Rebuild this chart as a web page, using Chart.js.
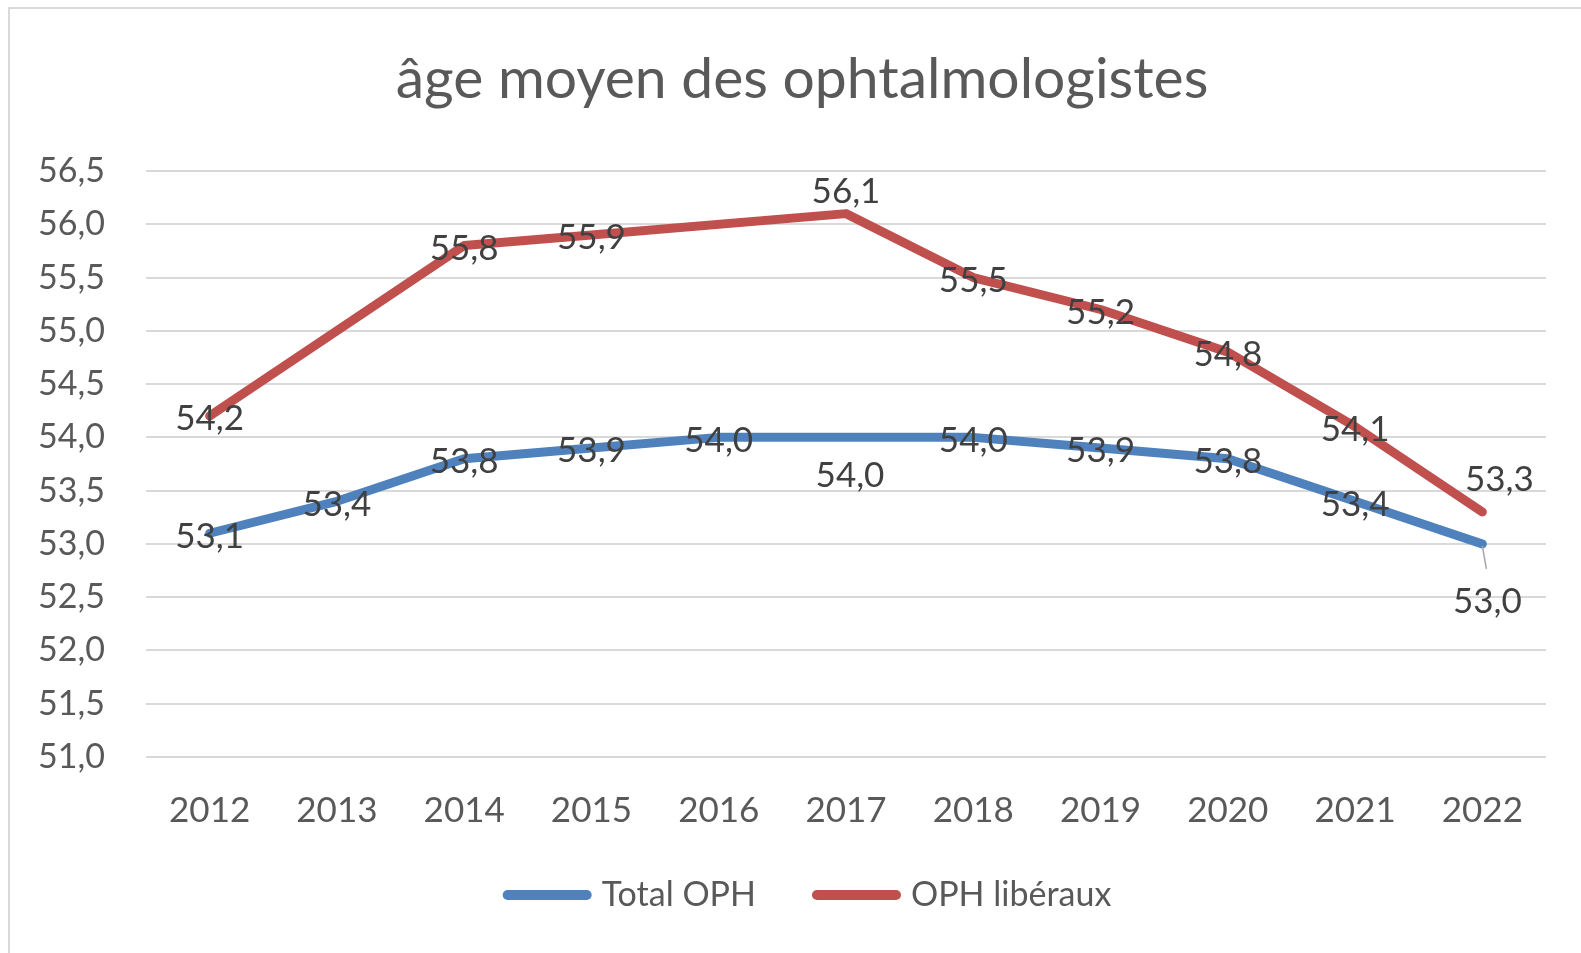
<!DOCTYPE html>
<html lang="fr">
<head>
<meta charset="utf-8">
<title>âge moyen des ophtalmologistes</title>
<script src="https://cdn.jsdelivr.net/npm/chart.js@4.4.1/dist/chart.umd.min.js"></script>
<style>
  html, body { margin: 0; padding: 0; background: #fff; overflow: hidden; }
  #frame {
    position: absolute; left: 8px; top: 7px; width: 1600px; height: 1000px;
    border-top: 2px solid #d9d9d9; border-left: 2px solid #d9d9d9;
  }
  #wrap { position: absolute; left: 0; top: 0; width: 1581px; height: 953px; }
</style>
</head>
<body>
<div id="frame"></div>
<div id="wrap"><canvas id="chart"></canvas></div>
<script>
'use strict';

const YEARS = ['2012', '2013', '2014', '2015', '2016', '2017', '2018', '2019', '2020', '2021', '2022'];
const TOTAL_OPH = [53.1, 53.4, 53.8, 53.9, 54.0, 54.0, 54.0, 53.9, 53.8, 53.4, 53.0];
const OPH_LIBERAUX = [54.2, null, 55.8, 55.9, null, 56.1, 55.5, 55.2, 54.8, 54.1, 53.3];
const SERIES_NAMES = ['Total OPH', 'OPH libéraux'];
const TITLE = 'âge moyen des ophtalmologistes';
const Y_MIN = 51;
const Y_MAX = 56.5;
const Y_STEP = 0.5;

const COLORS = ['#4f81bd', '#c0504d'];
const FONT = 'Lato, "Open Sans", sans-serif';
const TEXT_GREY = '#595959';

const formatFr = v => Number(v).toFixed(1).replace('.', ',');

// where a data label sits off its point (px), Excel moved a few by hand
const LABEL_NUDGE = [
  { 5: { dx: 4, dy: 38 }, 10: { dx: 5, dy: 58, leader: true } },
  { 5: { dx: 0, dy: -22 }, 10: { dx: 17, dy: -32 } },
];
const DEFAULT_NUDGE = { dx: 0, dy: 3 };

// title drawn by hand: Excel centres it on the frame, not on the plot
const titlePlugin = {
  id: 'frameTitle',
  afterDraw(chart, _args, opts) {
    const { ctx } = chart;
    ctx.save();
    ctx.font = `57px ${FONT}`;
    ctx.fillStyle = TEXT_GREY;
    ctx.textAlign = 'center';
    ctx.textBaseline = 'alphabetic';
    ctx.fillText(opts.text, opts.centerX, opts.baseline);
    ctx.restore();
  },
};

const dataLabelsPlugin = {
  id: 'dataLabels',
  afterDatasetsDraw(chart) {
    const { ctx } = chart;
    ctx.save();
    ctx.font = `35px ${FONT}`;
    ctx.textAlign = 'center';
    ctx.textBaseline = 'middle';
    chart.data.datasets.forEach((ds, di) => {
      const meta = chart.getDatasetMeta(di);
      meta.data.forEach((pt, i) => {
        const v = ds.data[i];
        if (v === null || v === undefined) return;
        const nudge = (LABEL_NUDGE[di] && LABEL_NUDGE[di][i]) || DEFAULT_NUDGE;
        const x = pt.x + nudge.dx;
        const y = pt.y + nudge.dy;
        if (nudge.leader) {
          ctx.strokeStyle = '#a6a6a6';
          ctx.lineWidth = 1.5;
          ctx.beginPath();
          ctx.moveTo(pt.x, pt.y + 2);
          ctx.lineTo(pt.x + 4, y - 33);
          ctx.stroke();
        }
        ctx.fillStyle = '#404040';
        ctx.fillText(formatFr(v), x, y);
      });
    });
    ctx.restore();
  },
};

const bottomLegendPlugin = {
  id: 'bottomLegend',
  afterDraw(chart, _args, opts) {
    const { ctx } = chart;
    ctx.save();
    ctx.font = `34px ${FONT}`;
    ctx.textBaseline = 'middle';
    const lineLen = 89, gap = 10, itemGap = 56;
    const items = chart.data.datasets.map(ds => ({
      label: ds.label, color: ds.borderColor, w: ctx.measureText(ds.label).width,
    }));
    const total = items.reduce((s, it) => s + lineLen + gap + it.w, 0) + itemGap * (items.length - 1);
    let x = opts.centerX - total / 2;
    const y = opts.y;
    items.forEach(it => {
      ctx.strokeStyle = it.color;
      ctx.lineWidth = 10;
      ctx.lineCap = 'round';
      ctx.beginPath();
      ctx.moveTo(x + 5, y);
      ctx.lineTo(x + lineLen - 5, y);
      ctx.stroke();
      ctx.fillStyle = TEXT_GREY;
      ctx.fillText(it.label, x + lineLen + gap, y);
      x += lineLen + gap + it.w + itemGap;
    });
    ctx.restore();
  },
};

const makeSeries = (label, data, color) => ({
  label,
  data,
  borderColor: color,
  backgroundColor: color,
  borderWidth: 9,
  borderCapStyle: 'round',
  borderJoinStyle: 'round',
  pointRadius: 0,
  pointHoverRadius: 0,
  tension: 0,
  spanGaps: true,
});

new Chart(document.getElementById('chart'), {
  type: 'line',
  data: {
    labels: YEARS,
    datasets: [
      makeSeries(SERIES_NAMES[0], TOTAL_OPH, COLORS[0]),
      makeSeries(SERIES_NAMES[1], OPH_LIBERAUX, COLORS[1]),
    ],
  },
  plugins: [titlePlugin, dataLabelsPlugin, bottomLegendPlugin],
  options: {
    responsive: true,
    maintainAspectRatio: false,
    animation: false,
    layout: { padding: { left: 24, right: 35, top: 171, bottom: 116 } },
    plugins: {
      legend: { display: false },
      tooltip: { enabled: false },
      frameTitle: { text: TITLE, centerX: 802, baseline: 98 },
      bottomLegend: { centerX: 807, y: 895 },
    },
    scales: {
      x: {
        offset: true,
        grid: { display: false },
        border: { display: false },
        ticks: { color: TEXT_GREY, font: { family: FONT, size: 35 }, padding: 25, maxRotation: 0 },
        afterFit: scale => { scale.height = 80; },
      },
      y: {
        min: Y_MIN,
        max: Y_MAX,
        grid: { color: '#d9d9d9', lineWidth: 2, drawTicks: false },
        border: { display: false },
        ticks: {
          stepSize: Y_STEP,
          color: TEXT_GREY,
          font: { family: FONT, size: 34 },
          padding: 41,
          callback: formatFr,
        },
        afterFit: scale => { scale.width = 122; },
      },
    },
  },
});
</script>
</body>
</html>
